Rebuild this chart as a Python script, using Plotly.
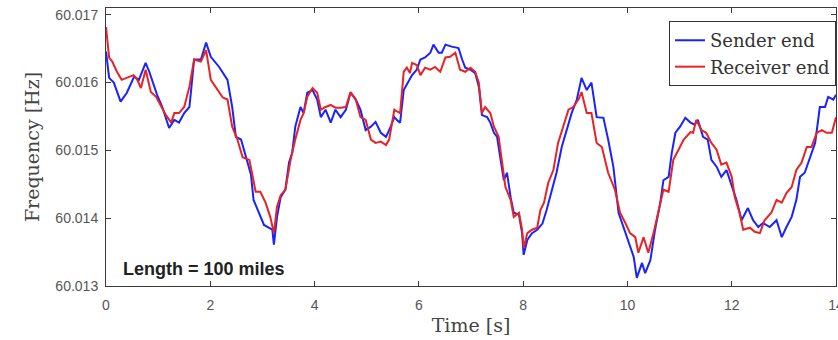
import plotly.graph_objects as go

# Sender-end frequency measurement
t_send = [0.00, 0.06, 0.15, 0.28, 0.40, 0.54, 0.63, 0.76, 0.83, 0.92, 0.98, 1.08, 1.21, 1.31, 1.40,
          1.50, 1.60, 1.69, 1.82, 1.92, 2.01, 2.17, 2.33, 2.42, 2.49, 2.59, 2.69, 2.78, 2.83, 2.93,
          3.03, 3.12, 3.19, 3.22, 3.28, 3.35, 3.44, 3.51, 3.57, 3.63, 3.73, 3.79, 3.86, 3.96, 4.05,
          4.12, 4.21, 4.31, 4.40, 4.50, 4.60, 4.69, 4.79, 4.88, 4.98, 5.08, 5.17, 5.27, 5.37, 5.46,
          5.53, 5.59, 5.64, 5.71, 5.77, 5.87, 5.96, 6.03, 6.12, 6.22, 6.28, 6.38, 6.44, 6.51, 6.63,
          6.76, 6.83, 6.89, 6.99, 7.08, 7.15, 7.21, 7.31, 7.37, 7.44, 7.50, 7.56, 7.63, 7.69, 7.76,
          7.82, 7.92, 7.98, 8.01, 8.08, 8.17, 8.27, 8.37, 8.45, 8.54, 8.64, 8.74, 8.83, 8.93, 9.03,
          9.12, 9.22, 9.31, 9.41, 9.54, 9.63, 9.73, 9.83, 9.92, 10.02, 10.12, 10.18, 10.28, 10.34,
          10.44, 10.53, 10.63, 10.69, 10.79, 10.85, 10.92, 11.01, 11.11, 11.21, 11.29, 11.35, 11.45,
          11.54, 11.61, 11.71, 11.80, 11.90, 12.00, 12.09, 12.19, 12.31, 12.41, 12.51, 12.60, 12.73,
          12.86, 12.96, 13.05, 13.15, 13.24, 13.31, 13.40, 13.50, 13.60, 13.69, 13.79, 13.85, 13.95,
          14.00]
f_send = [60.01646, 60.01607, 60.01600, 60.01572, 60.01585, 60.01609, 60.01604, 60.01629, 60.01616,
          60.01594, 60.01582, 60.01564, 60.01533, 60.01545, 60.01541, 60.01555, 60.01564, 60.01634,
          60.01634, 60.01659, 60.01638, 60.01623, 60.01604, 60.01564, 60.01520, 60.01516, 60.01490,
          60.01464, 60.01427, 60.01408, 60.01390, 60.01386, 60.01383, 60.01361, 60.01402, 60.01431,
          60.01442, 60.01482, 60.01496, 60.01535, 60.01564, 60.01555, 60.01585, 60.01589, 60.01575,
          60.01549, 60.01560, 60.01541, 60.01560, 60.01549, 60.01560, 60.01585, 60.01575, 60.01560,
          60.01530, 60.01535, 60.01542, 60.01526, 60.01520, 60.01535, 60.01549, 60.01544, 60.01541,
          60.01589, 60.01597, 60.01611, 60.01619, 60.01634, 60.01637, 60.01644, 60.01656, 60.01644,
          60.01644, 60.01656, 60.01653, 60.01651, 60.01634, 60.01622, 60.01619, 60.01614, 60.01594,
          60.01552, 60.01549, 60.01541, 60.01526, 60.01520, 60.01490, 60.01456, 60.01467, 60.01431,
          60.01408, 60.01405, 60.01378, 60.01346, 60.01368, 60.01378, 60.01383, 60.01392, 60.01412,
          60.01437, 60.01467, 60.01505, 60.01530, 60.01555, 60.01575, 60.01607, 60.01589, 60.01600,
          60.01549, 60.01548, 60.01516, 60.01476, 60.01408, 60.01387, 60.01364, 60.01343, 60.01312,
          60.01334, 60.01319, 60.01338, 60.01383, 60.01423, 60.01456, 60.01461, 60.01496, 60.01526,
          60.01535, 60.01548, 60.01541, 60.01538, 60.01545, 60.01520, 60.01516, 60.01486, 60.01476,
          60.01461, 60.01471, 60.01446, 60.01427, 60.01397, 60.01415, 60.01397, 60.01387, 60.01393,
          60.01387, 60.01397, 60.01372, 60.01387, 60.01402, 60.01427, 60.01461, 60.01467, 60.01490,
          60.01511, 60.01564, 60.01564, 60.01579, 60.01575, 60.01582]

# Receiver-end frequency measurement
t_recv = [0.00, 0.06, 0.12, 0.21, 0.30, 0.40, 0.53, 0.60, 0.67, 0.76, 0.86, 0.96, 1.06, 1.15, 1.25,
          1.31, 1.40, 1.50, 1.60, 1.69, 1.82, 1.92, 2.01, 2.14, 2.24, 2.33, 2.42, 2.52, 2.62, 2.75,
          2.87, 2.96, 3.06, 3.15, 3.22, 3.28, 3.35, 3.44, 3.54, 3.63, 3.73, 3.79, 3.86, 3.96, 4.05,
          4.12, 4.21, 4.31, 4.40, 4.50, 4.60, 4.69, 4.79, 4.88, 4.98, 5.08, 5.17, 5.27, 5.37, 5.43,
          5.53, 5.59, 5.64, 5.71, 5.77, 5.83, 5.87, 5.96, 6.03, 6.12, 6.22, 6.31, 6.41, 6.51, 6.60,
          6.70, 6.79, 6.89, 6.99, 7.08, 7.15, 7.21, 7.27, 7.37, 7.44, 7.53, 7.60, 7.66, 7.76, 7.82,
          7.92, 7.98, 8.01, 8.08, 8.17, 8.27, 8.33, 8.40, 8.48, 8.58, 8.67, 8.77, 8.87, 8.96, 9.06,
          9.12, 9.22, 9.31, 9.41, 9.51, 9.63, 9.76, 9.86, 9.96, 10.05, 10.15, 10.21, 10.31, 10.40,
          10.50, 10.60, 10.69, 10.79, 10.88, 10.98, 11.08, 11.21, 11.26, 11.32, 11.42, 11.51, 11.61,
          11.71, 11.80, 11.90, 12.00, 12.06, 12.15, 12.22, 12.35, 12.44, 12.54, 12.63, 12.76, 12.86,
          12.96, 13.05, 13.15, 13.24, 13.34, 13.44, 13.53, 13.63, 13.73, 13.82, 13.92, 14.00]
f_recv = [60.01682, 60.01637, 60.01631, 60.01616, 60.01604, 60.01607, 60.01611, 60.01604, 60.01592,
          60.01619, 60.01586, 60.01579, 60.01564, 60.01552, 60.01541, 60.01555, 60.01555, 60.01564,
          60.01594, 60.01634, 60.01631, 60.01648, 60.01604, 60.01589, 60.01578, 60.01575, 60.01535,
          60.01516, 60.01490, 60.01486, 60.01439, 60.01439, 60.01423, 60.01402, 60.01378, 60.01417,
          60.01434, 60.01442, 60.01486, 60.01516, 60.01545, 60.01555, 60.01579, 60.01592, 60.01585,
          60.01560, 60.01564, 60.01567, 60.01563, 60.01563, 60.01564, 60.01586, 60.01575, 60.01549,
          60.01545, 60.01516, 60.01511, 60.01513, 60.01508, 60.01516, 60.01560, 60.01557, 60.01555,
          60.01616, 60.01622, 60.01614, 60.01629, 60.01626, 60.01611, 60.01622, 60.01619, 60.01623,
          60.01616, 60.01637, 60.01638, 60.01644, 60.01619, 60.01616, 60.01622, 60.01616, 60.01600,
          60.01555, 60.01564, 60.01555, 60.01535, 60.01520, 60.01476, 60.01446, 60.01427, 60.01402,
          60.01408, 60.01383, 60.01356, 60.01378, 60.01383, 60.01386, 60.01412, 60.01423, 60.01452,
          60.01471, 60.01511, 60.01535, 60.01560, 60.01564, 60.01575, 60.01586, 60.01555, 60.01555,
          60.01511, 60.01505, 60.01467, 60.01442, 60.01408, 60.01393, 60.01378, 60.01372, 60.01349,
          60.01372, 60.01349, 60.01378, 60.01412, 60.01442, 60.01439, 60.01486, 60.01501, 60.01516,
          60.01527, 60.01526, 60.01545, 60.01530, 60.01526, 60.01511, 60.01501, 60.01479, 60.01482,
          60.01461, 60.01431, 60.01408, 60.01383, 60.01386, 60.01380, 60.01378, 60.01397, 60.01408,
          60.01427, 60.01423, 60.01437, 60.01446, 60.01471, 60.01482, 60.01505, 60.01505, 60.01526,
          60.01530, 60.01526, 60.01526, 60.01549]

x_ticks = [0, 2, 4, 6, 8, 10, 12, 14]
y_ticks = [60.013, 60.014, 60.015, 60.016, 60.017]
y_tick_labels = ["60.013", "60.014", "60.015", "60.016", "60.017"]

serif = "DejaVu Serif"
sans = "Liberation Sans"

fig = go.Figure()
fig.add_trace(go.Scatter(x=t_send, y=f_send, mode="lines", name="Sender end",
                         line=dict(color="rgb(25,35,255)", width=2)))
fig.add_trace(go.Scatter(x=t_recv, y=f_recv, mode="lines", name="Receiver end",
                         line=dict(color="rgb(232,35,35)", width=2)))

fig.add_annotation(x=0.02, y=0.06, xref="paper", yref="paper", xanchor="left", yanchor="middle",
                   text="<b>Length = 100 miles</b>", showarrow=False,
                   font=dict(family=sans, size=18, color="#222222"))

axis_common = dict(showgrid=False, zeroline=False, showline=True, linecolor="#3a3a3a", linewidth=1,
                   mirror="allticks", ticks="inside", ticklen=5, tickcolor="#3a3a3a", tickwidth=1,
                   ticklabeloverflow="allow",
                   tickfont=dict(family=sans, size=14, color="#555555"))

fig.update_xaxes(range=[0, 14], tickvals=x_ticks, ticktext=[str(v) for v in x_ticks],
                 title=dict(text="Time [s]", font=dict(family=serif, size=19, color="#444444"),
                            standoff=6),
                 ticklabelstandoff=6, **axis_common)
fig.update_yaxes(range=[60.013, 60.0171], tickvals=y_ticks, ticktext=y_tick_labels,
                 title=dict(text="Frequency [Hz]", font=dict(family=serif, size=19, color="#444444"),
                            standoff=10),
                 ticklabelstandoff=4, **axis_common)

fig.update_layout(
    width=838, height=340,
    margin=dict(l=106, r=2, t=8, b=54, autoexpand=False),
    paper_bgcolor="white", plot_bgcolor="white",
    showlegend=True,
    legend=dict(x=1, y=0.953, xanchor="right", yanchor="top",
                bgcolor="white", bordercolor="#333333", borderwidth=1,
                font=dict(family=serif, size=18, color="#333333"),
                tracegroupgap=0, itemwidth=30),
)

fig.write_html("out.html")
